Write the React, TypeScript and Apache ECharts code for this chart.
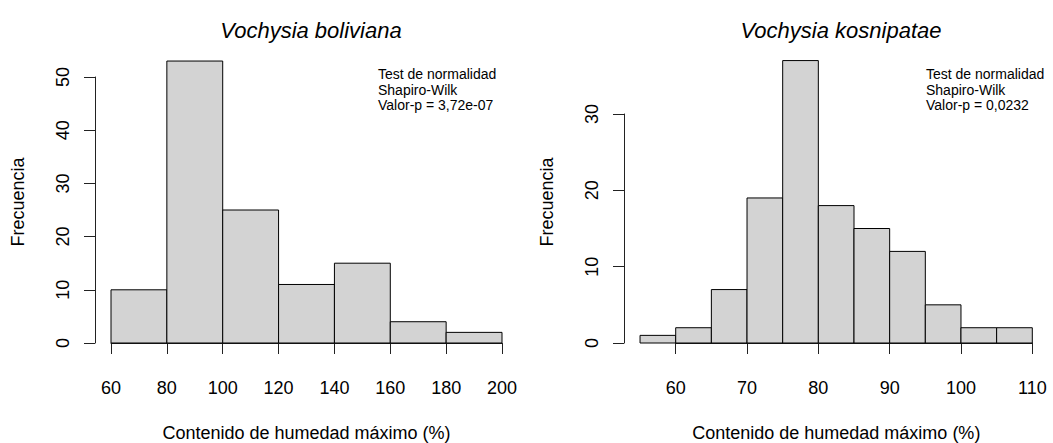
import React, { useEffect, useRef } from "react";
import * as echarts from "echarts";

const leftBreaks = [60, 80, 100, 120, 140, 160, 180, 200];
const leftCounts = [10, 53, 25, 11, 15, 4, 2];
const rightBreaks = [55, 60, 65, 70, 75, 80, 85, 90, 95, 100, 105, 110];
const rightCounts = [1, 2, 7, 19, 37, 18, 15, 12, 5, 2, 2];

const leftTitle = "Vochysia boliviana";
const rightTitle = "Vochysia kosnipatae";
const xName = "Contenido de humedad máximo (%)";
const yName = "Frecuencia";
const leftNote = ["Test de normalidad", "Shapiro-Wilk", "Valor-p = 3,72e-07"];
const rightNote = ["Test de normalidad", "Shapiro-Wilk", "Valor-p = 0,0232"];

const FONT = "'Liberation Sans', Arial, sans-serif";

function toBins(breaks: number[], counts: number[]) {
  return counts.map((c, i) => [breaks[i], breaks[i + 1], c]);
}

const renderBar = (params: any, api: any) => {
  const x0 = api.value(0);
  const x1 = api.value(1);
  const c = api.value(2);
  const p0 = api.coord([x0, 0]);
  const p1 = api.coord([x1, c]);
  return {
    type: "rect",
    shape: { x: p0[0], y: p1[1], width: p1[0] - p0[0], height: p0[1] - p1[1] },
    style: { fill: "#D3D3D3", stroke: "#000", lineWidth: 1 },
  };
};

function xAxisCfg(gridIndex: number, min: number, max: number, interval: number) {
  return {
    type: "value",
    gridIndex,
    min,
    max,
    interval,
    position: "bottom",
    offset: 11,
    splitLine: { show: false },
    axisLine: { show: true, lineStyle: { color: "#222", width: 1 } },
    axisTick: { show: true, length: 11, lineStyle: { color: "#222", width: 1 } },
    axisLabel: { show: true, margin: 25, fontSize: 18, color: "#000", fontFamily: FONT },
  };
}

function yAxisCfg(gridIndex: number, min: number, max: number, interval: number, offset: number) {
  return {
    type: "value",
    gridIndex,
    min,
    max,
    interval,
    position: "left",
    offset,
    splitLine: { show: false },
    axisLine: { show: true, lineStyle: { color: "#222", width: 1 } },
    axisTick: { show: true, length: 11, lineStyle: { color: "#222", width: 1 } },
    axisLabel: { show: true, rotate: 90, margin: 23, fontSize: 18, color: "#000", fontFamily: FONT },
  };
}

function textEl(text: string, x: number, y: number, fontSize: number, rotation = 0, align = "center") {
  return {
    type: "text",
    x,
    y,
    rotation,
    style: {
      text,
      fontSize,
      fontFamily: FONT,
      fill: "#000",
      textAlign: align,
      textVerticalAlign: "middle",
    },
  };
}

function noteEls(lines: string[], x: number, y0: number) {
  return lines.map((t, i) => textEl(t, x, y0 + i * 15.5, 14, 0, "left"));
}

export default function App() {
  const ref = useRef<HTMLDivElement>(null);
  useEffect(() => {
    if (!ref.current) return;
    const chart = echarts.init(ref.current, undefined, { renderer: "svg" });
    chart.setOption({
      animation: false,
      backgroundColor: "#fff",
      title: [
        {
          text: leftTitle,
          left: 306,
          top: 14,
          textAlign: "center",
          textStyle: { fontSize: 22, fontStyle: "italic", fontWeight: "normal", color: "#000", fontFamily: FONT },
        },
        {
          text: rightTitle,
          left: 836,
          top: 14,
          textAlign: "center",
          textStyle: { fontSize: 22, fontStyle: "italic", fontWeight: "normal", color: "#000", fontFamily: FONT },
        },
      ],
      grid: [
        { left: 111, top: 77, width: 391, height: 266, containLabel: false },
        { left: 675.7, top: 114, width: 356.6, height: 229, containLabel: false },
      ],
      xAxis: [xAxisCfg(0, 60, 200, 20), xAxisCfg(1, 60, 110, 10)],
      yAxis: [yAxisCfg(0, 0, 50, 10, 16), yAxisCfg(1, 0, 30, 10, 51.7)],
      series: [
        {
          type: "custom",
          xAxisIndex: 0,
          yAxisIndex: 0,
          clip: false,
          renderItem: renderBar,
          encode: { x: [0, 1], y: 2 },
          data: toBins(leftBreaks, leftCounts),
        },
        {
          type: "custom",
          xAxisIndex: 1,
          yAxisIndex: 1,
          clip: false,
          renderItem: renderBar,
          encode: { x: [0, 1], y: 2 },
          data: toBins(rightBreaks, rightCounts),
        },
      ],
      graphic: [
        textEl(xName, 306.5, 433, 18),
        textEl(xName, 836.3, 433, 18),
        textEl(yName, 18, 202, 18, Math.PI / 2),
        textEl(yName, 547, 202, 18, Math.PI / 2),
        ...noteEls(leftNote, 378, 74),
        ...noteEls(rightNote, 926, 74),
      ],
    });
    return () => chart.dispose();
  }, []);
  return (
    <div
      ref={ref}
      style={{ position: "absolute", left: 0, top: 0, width: 1053, height: 443 }}
    />
  );
}
